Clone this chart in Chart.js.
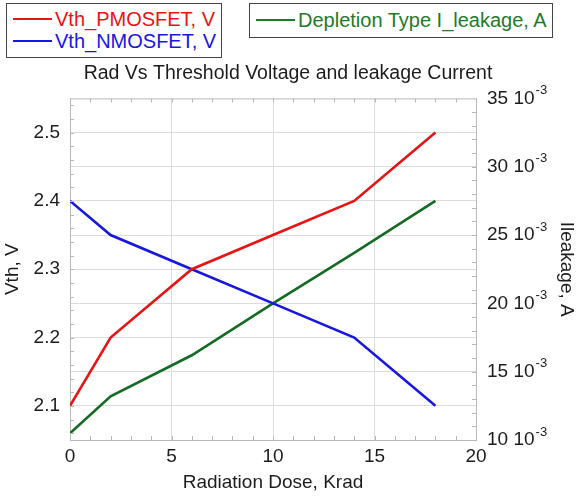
<!DOCTYPE html>
<html>
<head>
<meta charset="UTF-8">
<title>Rad Vs Threshold Voltage and leakage Current</title>
<script src="https://cdn.jsdelivr.net/npm/chart.js@4.4.1/dist/chart.umd.min.js"></script>
<style>
  * { margin: 0; padding: 0; box-sizing: border-box; }
  body { background: #fff; font-family: 'Liberation Sans', Arial, sans-serif; }
  #wrap { position: relative; width: 576px; height: 498px; }
  .legend { position: absolute; background: #fff; border: 1.5px solid #444; padding: 4px 0 0 6px; }
  .row { display: flex; align-items: center; height: 22px; font-size: 20px; white-space: nowrap; }
  .row i { display: inline-block; width: 39px; height: 2px; margin-right: 3px; }
</style>
</head>
<body>
<div id="wrap">
  <canvas id="chart" width="576" height="498"></canvas>
  <div class="legend" style="left:6px;top:3px;width:216px;height:55px;">
    <div class="row" style="color:#e81414"><i style="background:#e81414"></i>Vth_PMOSFET, V</div>
    <div class="row" style="color:#1717e0"><i style="background:#1717e0"></i>Vth_NMOSFET, V</div>
  </div>
  <div class="legend" style="left:249px;top:3px;width:304px;height:35px;padding-top:5px;">
    <div class="row" style="color:#1f7a2c"><i style="background:#1f7a2c"></i>Depletion Type I_leakage, A</div>
  </div>
</div>
<script>
// radiation dose steps (Krad)
const doses = [0, 2, 6, 10, 14, 18];
// threshold voltages (V)
const vthPmos = [2.1, 2.2, 2.3, 2.35, 2.4, 2.5];
const vthNmos = [2.4, 2.35, 2.3, 2.25, 2.2, 2.1];
// leakage current (A)
const leakage = [10.5e-3, 13.2e-3, 16.2e-3, 20.0e-3, 23.7e-3, 27.5e-3];

// axis ranges and labelled ticks
const doseTicks = [0, 5, 10, 15, 20];
const vthTicks = [2.1, 2.2, 2.3, 2.4, 2.5];
const leakTicks = [10e-3, 15e-3, 20e-3, 25e-3, 30e-3, 35e-3];
const vthRange = [2.05, 2.55];
const leakRange = [10e-3, 35e-3];

const FONT = "'Liberation Sans', Arial, sans-serif";
const GRID = '#dcdcdc';
const FRAME = '#b8b8b8';
const TEXT = '#1c1c1c';

const pts = ys => doses.map((x, i) => ({ x, y: ys[i] }));

// frame on top side + small inward tick marks on all four sides, plus the 10^-3 exponents
const frameTicks = {
  id: 'frameTicks',
  afterDraw(chart) {
    const { ctx, chartArea: a, scales } = chart;
    const x = scales.x, y = scales.y, y1 = scales.y1;
    ctx.save();
    ctx.strokeStyle = FRAME;
    ctx.lineWidth = 1;
    ctx.beginPath();
    ctx.moveTo(a.left, a.top + 0.5);
    ctx.lineTo(a.right, a.top + 0.5);
    for (let v = 1; v < 20; v++) {
      const px = Math.round(x.getPixelForValue(v)) + 0.5;
      ctx.moveTo(px, a.bottom); ctx.lineTo(px, a.bottom - 4);
      ctx.moveTo(px, a.top); ctx.lineTo(px, a.top + 4);
    }
    for (let k = 103; k < 128; k++) {
      const py = Math.round(y.getPixelForValue(k * 0.02)) + 0.5;
      ctx.moveTo(a.left, py); ctx.lineTo(a.left + 4, py);
    }
    for (let k = 11; k < 35; k++) {
      const py = Math.round(y1.getPixelForValue(k * 1e-3)) + 0.5;
      ctx.moveTo(a.right, py); ctx.lineTo(a.right - 4, py);
    }
    ctx.stroke();

    // exponent after each right-hand label
    ctx.fillStyle = TEXT;
    ctx.textBaseline = 'middle';
    ctx.textAlign = 'left';
    y1.ticks.forEach(t => {
      const py = y1.getPixelForValue(t.value);
      ctx.font = '19px ' + FONT;
      const w = ctx.measureText(Math.round(t.value * 1000) + ' 10').width;
      ctx.font = '13px ' + FONT;
      ctx.fillText('-3', a.right + 11 + w + 1, py - 8);
    });
    ctx.restore();
  }
};

new Chart(document.getElementById('chart'), {
  type: 'line',
  data: {
    datasets: [
      { label: 'Vth_PMOSFET, V', data: pts(vthPmos), borderColor: '#e81414', yAxisID: 'y' },
      { label: 'Vth_NMOSFET, V', data: pts(vthNmos), borderColor: '#1717e0', yAxisID: 'y' },
      { label: 'Depletion Type I_leakage, A', data: pts(leakage), borderColor: '#156b24', yAxisID: 'y1' }
    ]
  },
  options: {
    responsive: false,
    animation: false,
    layout: { padding: 0 },
    elements: {
      line: { borderWidth: 2.6, tension: 0, fill: false },
      point: { radius: 0 }
    },
    plugins: {
      legend: { display: false },
      tooltip: { enabled: false },
      title: {
        display: true,
        text: 'Rad Vs Threshold Voltage and leakage Current',
        color: TEXT,
        font: { family: FONT, size: 19.5, weight: 'normal' },
        padding: { top: 62, bottom: 13 }
      }
    },
    scales: {
      x: {
        type: 'linear',
        min: 0, max: 20,
        afterBuildTicks: s => { s.ticks = doseTicks.map(value => ({ value })); },
        afterFit: s => { s.height = 58; },
        ticks: { color: TEXT, padding: 5, font: { family: FONT, size: 19 } },
        grid: { drawTicks: false, color: c => (c.tick && c.tick.value > 0 && c.tick.value < 20) ? GRID : 'transparent' },
        border: { color: FRAME },
        title: {
          display: true, text: 'Radiation Dose, Krad', color: TEXT,
          font: { family: FONT, size: 19 }, padding: { top: 0, bottom: 4 }
        }
      },
      y: {
        position: 'left',
        min: vthRange[0], max: vthRange[1],
        afterBuildTicks: s => { s.ticks = vthTicks.map(value => ({ value })); },
        afterFit: s => { s.width = 70; },
        ticks: { color: TEXT, padding: 10, font: { family: FONT, size: 19 }, callback: v => v.toFixed(1) },
        grid: { drawTicks: false, color: GRID },
        border: { color: FRAME },
        title: {
          display: true, text: 'Vth, V', color: TEXT,
          font: { family: FONT, size: 19 }, padding: { top: 1, bottom: 0 }
        }
      },
      y1: {
        position: 'right',
        min: leakRange[0], max: leakRange[1],
        afterBuildTicks: s => { s.ticks = leakTicks.map(value => ({ value })); },
        afterFit: s => { s.width = 100; },
        ticks: { color: TEXT, padding: 11, font: { family: FONT, size: 19 }, callback: v => Math.round(v * 1000) + ' 10' },
        grid: { drawTicks: false, color: c => (c.tick && c.tick.value > 0.0101 && c.tick.value < 0.0349) ? GRID : 'transparent' },
        border: { color: FRAME },
        title: {
          display: true, text: 'Ileakage, A', color: TEXT,
          font: { family: FONT, size: 19, lineHeight: 1 }, padding: { top: 0, bottom: 0 }
        }
      }
    }
  },
  plugins: [frameTicks]
});
</script>
</body>
</html>
